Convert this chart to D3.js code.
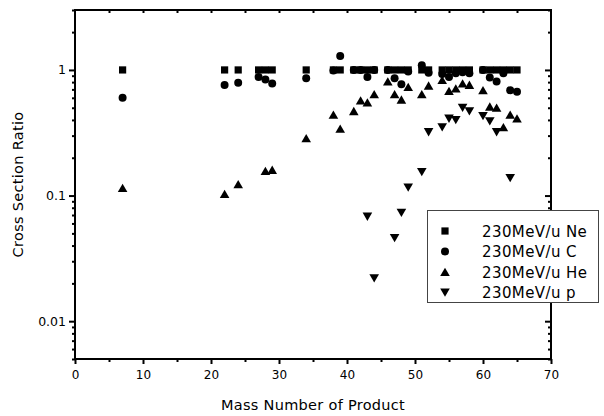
<!DOCTYPE html>
<html lang="en">
<head>
    <meta charset="UTF-8">
    <title>Cross Section Ratio</title>
    <script src="https://d3js.org/d3.v7.min.js"></script>
    <style>
        body { margin: 0; background: #fff; }
        text { font-family: "DejaVu Sans", sans-serif; fill: #000; }
    </style>
</head>
<body>
    <div id="chart"></div>
    <script>
        // values
        const massNe = [7, 22, 24, 27, 28, 29, 34, 38, 39, 41, 42, 43, 44, 46, 47, 48, 49, 51, 52, 54, 55, 56, 57, 58, 60, 61, 62, 63, 64, 65];
        const ratioNe = [1, 1, 1, 1, 1, 1, 1, 1, 1, 1, 1, 1, 1, 1, 1, 1, 1, 1, 1, 1, 1, 1, 1, 1, 1, 1, 1, 1, 1, 1];

        const massC = [7, 22, 24, 27, 28, 29, 34, 38, 39, 41, 42, 43, 44, 46, 47, 48, 49, 51, 52, 54, 55, 56, 57, 58, 60, 61, 62, 63, 64, 65];
        const ratioC = [0.60, 0.76, 0.79, 0.88, 0.84, 0.78, 0.86, 0.99, 1.29, 1.0, 1.0, 0.88, 1.0, 1.0, 0.86, 0.77, 0.97, 1.09, 0.95, 0.93, 0.88, 0.94, 0.96, 0.94, 1.0, 0.87, 0.81, 0.94, 0.69, 0.67];

        const massHe = [7, 22, 24, 28, 29, 34, 38, 39, 41, 42, 43, 44, 46, 47, 48, 49, 51, 52, 54, 55, 56, 57, 58, 60, 61, 62, 63, 64, 65];
        const ratioHe = [0.115, 0.103, 0.123, 0.157, 0.160, 0.286, 0.44, 0.34, 0.47, 0.57, 0.55, 0.64, 0.81, 0.64, 0.58, 0.73, 0.64, 0.75, 0.83, 0.68, 0.71, 0.78, 0.76, 0.69, 0.51, 0.50, 0.35, 0.44, 0.41];

        const massP = [43, 44, 47, 48, 49, 51, 52, 54, 55, 56, 57, 58, 60, 61, 62, 64];
        const ratioP = [0.068, 0.022, 0.046, 0.073, 0.116, 0.154, 0.32, 0.35, 0.41, 0.40, 0.50, 0.47, 0.43, 0.39, 0.32, 0.138];

        const seriesNames = ['230MeV/u Ne', '230MeV/u C', '230MeV/u He', '230MeV/u p'];
        const xTicks = [0, 10, 20, 30, 40, 50, 60, 70];
        const yTicks = [1, 0.1, 0.01];

        const width = 604, height = 416;
        const plotLeft = 75, plotRight = 551, plotTop = 10, plotBottom = 359;

        const svg = d3.select('#chart').append('svg')
            .attr('width', width)
            .attr('height', height);

        const x = d3.scaleLinear().domain([0, 70]).range([plotLeft, plotRight]);
        const y = d3.scaleLog().domain([0.005, 3]).range([plotBottom, plotTop]);

        // minor ticks for the log axis
        const yMinor = [];
        [0.001, 0.01, 0.1, 1].forEach(d => {
            for (let k = 2; k <= 9; k++) {
                const v = d * k;
                if (v >= 0.005 && v <= 3) yMinor.push(v);
            }
        });
        const xMinor = d3.range(5, 70, 10);

        // bottom axis
        svg.append('g')
            .attr('transform', `translate(0,${plotBottom})`)
            .call(d3.axisBottom(x).tickValues(xTicks).tickFormat(d3.format('d')).tickSizeInner(5).tickSizeOuter(0).tickPadding(6))
            .call(g => g.select('.domain').remove())
            .call(g => g.selectAll('line').attr('stroke-width', 2))
            .call(g => g.selectAll('text').style('font-size', '12px').style('font-family', '"DejaVu Sans", sans-serif'));
        svg.append('g')
            .attr('transform', `translate(0,${plotBottom})`)
            .call(d3.axisBottom(x).tickValues(xMinor).tickFormat('').tickSizeInner(3).tickSizeOuter(0))
            .call(g => g.select('.domain').remove())
            .call(g => g.selectAll('line').attr('stroke-width', 2));

        // top mirror ticks, inward
        svg.append('g')
            .attr('transform', `translate(0,${plotTop})`)
            .call(d3.axisBottom(x).tickValues(d3.range(5, 70, 5)).tickFormat('').tickSizeInner(3).tickSizeOuter(0))
            .call(g => g.select('.domain').remove())
            .call(g => g.selectAll('line').attr('stroke-width', 2));

        // left axis
        svg.append('g')
            .attr('transform', `translate(${plotLeft},0)`)
            .call(d3.axisLeft(y).tickValues(yTicks).tickFormat(d => d3.format('~g')(d)).tickSizeInner(6).tickSizeOuter(0).tickPadding(3))
            .call(g => g.select('.domain').remove())
            .call(g => g.selectAll('line').attr('stroke-width', 2))
            .call(g => g.selectAll('text').style('font-size', '12.5px').style('font-family', '"DejaVu Sans", sans-serif'));
        svg.append('g')
            .attr('transform', `translate(${plotLeft},0)`)
            .call(d3.axisLeft(y).tickValues(yMinor).tickFormat('').tickSizeInner(3).tickSizeOuter(0))
            .call(g => g.select('.domain').remove())
            .call(g => g.selectAll('line').attr('stroke-width', 2));

        // right mirror ticks, inward
        svg.append('g')
            .attr('transform', `translate(${plotRight},0)`)
            .call(d3.axisLeft(y).tickValues(yTicks).tickFormat('').tickSizeInner(6).tickSizeOuter(0))
            .call(g => g.select('.domain').remove())
            .call(g => g.selectAll('line').attr('stroke-width', 2));
        svg.append('g')
            .attr('transform', `translate(${plotRight},0)`)
            .call(d3.axisLeft(y).tickValues(yMinor).tickFormat('').tickSizeInner(3).tickSizeOuter(0))
            .call(g => g.select('.domain').remove())
            .call(g => g.selectAll('line').attr('stroke-width', 2));

        // frame
        svg.append('rect')
            .attr('x', plotLeft).attr('y', plotTop)
            .attr('width', plotRight - plotLeft).attr('height', plotBottom - plotTop)
            .attr('fill', 'none').attr('stroke', '#000').attr('stroke-width', 2);

        // marker shapes
        const shapes = [
            'M-3.6,-3.6H3.6V3.6H-3.6Z',
            d3.symbol(d3.symbolCircle, 50)(),
            'M0,-4.3L4.8,4L-4.8,4Z',
            'M0,4.3L4.8,-4L-4.8,-4Z'
        ];

        const series = [
            { mass: massNe, ratio: ratioNe },
            { mass: massC, ratio: ratioC },
            { mass: massHe, ratio: ratioHe },
            { mass: massP, ratio: ratioP }
        ];

        series.forEach((s, i) => {
            svg.append('g').selectAll('path')
                .data(s.mass.map((m, j) => [m, s.ratio[j]]))
                .enter().append('path')
                .attr('d', shapes[i])
                .attr('fill', '#000')
                .attr('transform', d => `translate(${x(d[0])},${y(d[1])})`);
        });

        // legend
        const legend = svg.append('g');
        legend.append('rect')
            .attr('x', 427.5).attr('y', 210.5)
            .attr('width', 171).attr('height', 92)
            .attr('fill', '#fff').attr('stroke', '#444').attr('stroke-width', 1);
        seriesNames.forEach((name, i) => {
            const ly = 231 + i * 20.5;
            legend.append('path')
                .attr('d', shapes[i])
                .attr('fill', '#000')
                .attr('transform', `translate(445,${ly})`);
            legend.append('text')
                .attr('x', 482).attr('y', ly + 5.5)
                .style('font-size', '15px')
                .style('letter-spacing', '0.4px')
                .text(name);
        });

        // axis titles
        svg.append('text')
            .attr('x', (plotLeft + plotRight) / 2).attr('y', 410)
            .attr('text-anchor', 'middle')
            .style('font-size', '14.5px')
            .style('letter-spacing', '0.3px')
            .text('Mass Number of Product');

        svg.append('text')
            .attr('transform', `translate(23,${(plotTop + plotBottom) / 2}) rotate(-90)`)
            .attr('text-anchor', 'middle')
            .style('font-size', '14.5px')
            .style('letter-spacing', '0.3px')
            .text('Cross Section Ratio');
    </script>
</body>
</html>
